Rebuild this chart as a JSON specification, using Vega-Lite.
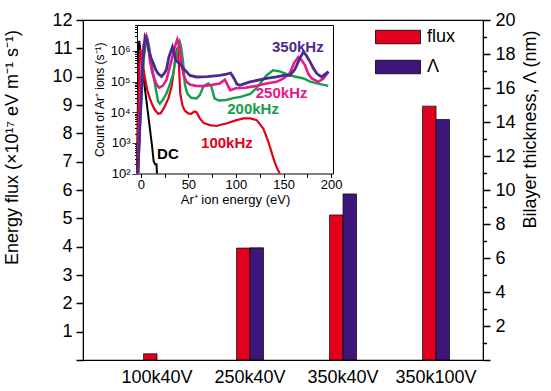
{
  "$schema": "https://vega.github.io/schema/vega-lite/v6.json",
  "width": 400,
  "height": 340,
  "autosize": {"type": "none"},
  "padding": {"left": 83, "top": 20, "right": 68, "bottom": 31},
  "background": "white",
  "config": {
    "view": {"stroke": "black", "strokeWidth": 1.2},
    "font": "Liberation Sans",
    "axis": {"labelFont": "Liberation Sans", "titleFont": "Liberation Sans", "labelColor": "black", "titleColor": "black", "domainColor": "black", "tickColor": "black", "grid": false, "titleFontWeight": "normal"},
    "legend": {"labelFont": "Liberation Sans", "labelColor": "black"}
  },
  "datasets": {
    "bars": [
      {"sample": "100k40V", "series": "flux", "value": 0.22},
      {"sample": "250k40V", "series": "flux", "value": 3.95},
      {"sample": "250k40V", "series": "Λ", "value": 6.6},
      {"sample": "350k40V", "series": "flux", "value": 5.12},
      {"sample": "350k40V", "series": "Λ", "value": 9.77},
      {"sample": "350k100V", "series": "flux", "value": 8.96},
      {"sample": "350k100V", "series": "Λ", "value": 14.15}
    ],
    "ied": [
      {"curve": "DC", "E": -4, "count": 100},
      {"curve": "DC", "E": -3, "count": 31600},
      {"curve": "DC", "E": -2.2, "count": 1580000},
      {"curve": "DC", "E": -1.6, "count": 2140000},
      {"curve": "DC", "E": -0.8, "count": 1260000},
      {"curve": "DC", "E": 0, "count": 710000},
      {"curve": "DC", "E": 3, "count": 126000},
      {"curve": "DC", "E": 6, "count": 22400},
      {"curve": "DC", "E": 9, "count": 3980},
      {"curve": "DC", "E": 12, "count": 708},
      {"curve": "DC", "E": 13.5, "count": 251},
      {"curve": "DC", "E": 15, "count": 200},
      {"curve": "DC", "E": 16.5, "count": 200},
      {"curve": "DC", "E": 17, "count": 100},

      {"curve": "100kHz", "E": -3.5, "count": 100},
      {"curve": "100kHz", "E": -2.5, "count": 10000},
      {"curve": "100kHz", "E": -1.5, "count": 316000},
      {"curve": "100kHz", "E": -0.5, "count": 1100000},
      {"curve": "100kHz", "E": 1, "count": 630000},
      {"curve": "100kHz", "E": 2.5, "count": 316000},
      {"curve": "100kHz", "E": 4.2, "count": 141000},
      {"curve": "100kHz", "E": 7, "count": 50000},
      {"curve": "100kHz", "E": 9.5, "count": 28200},
      {"curve": "100kHz", "E": 12, "count": 17800},
      {"curve": "100kHz", "E": 14.7, "count": 12000},
      {"curve": "100kHz", "E": 18.2, "count": 8900},
      {"curve": "100kHz", "E": 21, "count": 9300},
      {"curve": "100kHz", "E": 25, "count": 15100},
      {"curve": "100kHz", "E": 29, "count": 28200},
      {"curve": "100kHz", "E": 32.3, "count": 67600},
      {"curve": "100kHz", "E": 34.5, "count": 200000},
      {"curve": "100kHz", "E": 36.8, "count": 830000},
      {"curve": "100kHz", "E": 38.5, "count": 1260000},
      {"curve": "100kHz", "E": 40, "count": 398000},
      {"curve": "100kHz", "E": 41.5, "count": 39800},
      {"curve": "100kHz", "E": 44, "count": 15800},
      {"curve": "100kHz", "E": 46.3, "count": 11200},
      {"curve": "100kHz", "E": 49.8, "count": 9100},
      {"curve": "100kHz", "E": 53, "count": 8900},
      {"curve": "100kHz", "E": 56, "count": 10500},
      {"curve": "100kHz", "E": 58.6, "count": 10000},
      {"curve": "100kHz", "E": 62, "count": 6300},
      {"curve": "100kHz", "E": 66, "count": 4470},
      {"curve": "100kHz", "E": 72.6, "count": 3800},
      {"curve": "100kHz", "E": 79.6, "count": 3550},
      {"curve": "100kHz", "E": 85, "count": 3980},
      {"curve": "100kHz", "E": 90, "count": 4270},
      {"curve": "100kHz", "E": 100.7, "count": 5500},
      {"curve": "100kHz", "E": 108, "count": 6300},
      {"curve": "100kHz", "E": 114.7, "count": 6300},
      {"curve": "100kHz", "E": 121.8, "count": 5500},
      {"curve": "100kHz", "E": 128.7, "count": 2950},
      {"curve": "100kHz", "E": 134, "count": 1100},
      {"curve": "100kHz", "E": 139.3, "count": 316},
      {"curve": "100kHz", "E": 142.8, "count": 158},
      {"curve": "100kHz", "E": 146, "count": 100},

      {"curve": "200kHz", "E": -3, "count": 100},
      {"curve": "200kHz", "E": -1, "count": 3160},
      {"curve": "200kHz", "E": 1, "count": 63000},
      {"curve": "200kHz", "E": 3, "count": 500000},
      {"curve": "200kHz", "E": 5, "count": 1580000},
      {"curve": "200kHz", "E": 7, "count": 2500000},
      {"curve": "200kHz", "E": 9, "count": 1260000},
      {"curve": "200kHz", "E": 11, "count": 400000},
      {"curve": "200kHz", "E": 13, "count": 182000},
      {"curve": "200kHz", "E": 15.5, "count": 63000},
      {"curve": "200kHz", "E": 18.2, "count": 22400},
      {"curve": "200kHz", "E": 20, "count": 19000},
      {"curve": "200kHz", "E": 23, "count": 25100},
      {"curve": "200kHz", "E": 27, "count": 40700},
      {"curve": "200kHz", "E": 31, "count": 89000},
      {"curve": "200kHz", "E": 34, "count": 182000},
      {"curve": "200kHz", "E": 37.5, "count": 790000},
      {"curve": "200kHz", "E": 41, "count": 1950000},
      {"curve": "200kHz", "E": 42.5, "count": 1260000},
      {"curve": "200kHz", "E": 44.6, "count": 390000},
      {"curve": "200kHz", "E": 46.3, "count": 79000},
      {"curve": "200kHz", "E": 49, "count": 39800},
      {"curve": "200kHz", "E": 53, "count": 29500},
      {"curve": "200kHz", "E": 58.6, "count": 28200},
      {"curve": "200kHz", "E": 62, "count": 36300},
      {"curve": "200kHz", "E": 66, "count": 70800},
      {"curve": "200kHz", "E": 71, "count": 87000},
      {"curve": "200kHz", "E": 74, "count": 70800},
      {"curve": "200kHz", "E": 77.5, "count": 28200},
      {"curve": "200kHz", "E": 82, "count": 24000},
      {"curve": "200kHz", "E": 90, "count": 25100},
      {"curve": "200kHz", "E": 97, "count": 28800},
      {"curve": "200kHz", "E": 105, "count": 31600},
      {"curve": "200kHz", "E": 115, "count": 39800},
      {"curve": "200kHz", "E": 122, "count": 63000},
      {"curve": "200kHz", "E": 132, "count": 158000},
      {"curve": "200kHz", "E": 139, "count": 234000},
      {"curve": "200kHz", "E": 146, "count": 214000},
      {"curve": "200kHz", "E": 157, "count": 158000},
      {"curve": "200kHz", "E": 164, "count": 141000},
      {"curve": "200kHz", "E": 171, "count": 126000},
      {"curve": "200kHz", "E": 178, "count": 100000},
      {"curve": "200kHz", "E": 185, "count": 87000},
      {"curve": "200kHz", "E": 197, "count": 72400},

      {"curve": "250kHz", "E": -3, "count": 100},
      {"curve": "250kHz", "E": -1, "count": 10000},
      {"curve": "250kHz", "E": 1, "count": 316000},
      {"curve": "250kHz", "E": 3, "count": 1580000},
      {"curve": "250kHz", "E": 5.8, "count": 2950000},
      {"curve": "250kHz", "E": 7.8, "count": 1580000},
      {"curve": "250kHz", "E": 9.5, "count": 500000},
      {"curve": "250kHz", "E": 12, "count": 200000},
      {"curve": "250kHz", "E": 14.7, "count": 112000},
      {"curve": "250kHz", "E": 17, "count": 75900},
      {"curve": "250kHz", "E": 19.3, "count": 63000},
      {"curve": "250kHz", "E": 23, "count": 72400},
      {"curve": "250kHz", "E": 27, "count": 112000},
      {"curve": "250kHz", "E": 32.3, "count": 500000},
      {"curve": "250kHz", "E": 35.5, "count": 1260000},
      {"curve": "250kHz", "E": 38.4, "count": 2400000},
      {"curve": "250kHz", "E": 40.2, "count": 1580000},
      {"curve": "250kHz", "E": 42.8, "count": 390000},
      {"curve": "250kHz", "E": 45, "count": 158000},
      {"curve": "250kHz", "E": 48, "count": 97700},
      {"curve": "250kHz", "E": 51.6, "count": 79400},
      {"curve": "250kHz", "E": 58, "count": 72400},
      {"curve": "250kHz", "E": 65, "count": 70800},
      {"curve": "250kHz", "E": 72.6, "count": 75900},
      {"curve": "250kHz", "E": 83, "count": 87000},
      {"curve": "250kHz", "E": 88.4, "count": 115000},
      {"curve": "250kHz", "E": 91, "count": 79400},
      {"curve": "250kHz", "E": 94, "count": 52500},
      {"curve": "250kHz", "E": 100, "count": 60300},
      {"curve": "250kHz", "E": 110, "count": 63000},
      {"curve": "250kHz", "E": 120, "count": 70800},
      {"curve": "250kHz", "E": 132, "count": 87000},
      {"curve": "250kHz", "E": 142.8, "count": 97700},
      {"curve": "250kHz", "E": 150, "count": 126000},
      {"curve": "250kHz", "E": 156.8, "count": 190000},
      {"curve": "250kHz", "E": 161, "count": 400000},
      {"curve": "250kHz", "E": 165.6, "count": 630000},
      {"curve": "250kHz", "E": 169, "count": 500000},
      {"curve": "250kHz", "E": 172.6, "count": 340000},
      {"curve": "250kHz", "E": 176, "count": 178000},
      {"curve": "250kHz", "E": 179.7, "count": 126000},
      {"curve": "250kHz", "E": 186.6, "count": 97700},
      {"curve": "250kHz", "E": 192, "count": 126000},
      {"curve": "250kHz", "E": 197.2, "count": 210000},

      {"curve": "350kHz", "E": -3, "count": 100},
      {"curve": "350kHz", "E": -1, "count": 3160},
      {"curve": "350kHz", "E": 1, "count": 63000},
      {"curve": "350kHz", "E": 2.5, "count": 630000},
      {"curve": "350kHz", "E": 4.5, "count": 2900000},
      {"curve": "350kHz", "E": 6.5, "count": 2240000},
      {"curve": "350kHz", "E": 8.5, "count": 1000000},
      {"curve": "350kHz", "E": 11, "count": 560000},
      {"curve": "350kHz", "E": 13, "count": 400000},
      {"curve": "350kHz", "E": 15.5, "count": 250000},
      {"curve": "350kHz", "E": 18.2, "count": 182000},
      {"curve": "350kHz", "E": 21.8, "count": 145000},
      {"curve": "350kHz", "E": 25, "count": 190000},
      {"curve": "350kHz", "E": 27, "count": 250000},
      {"curve": "350kHz", "E": 29.5, "count": 630000},
      {"curve": "350kHz", "E": 33.3, "count": 1350000},
      {"curve": "350kHz", "E": 35, "count": 890000},
      {"curve": "350kHz", "E": 36.5, "count": 500000},
      {"curve": "350kHz", "E": 38.6, "count": 440000},
      {"curve": "350kHz", "E": 41, "count": 380000},
      {"curve": "350kHz", "E": 44.6, "count": 270000},
      {"curve": "350kHz", "E": 48, "count": 210000},
      {"curve": "350kHz", "E": 51.6, "count": 158000},
      {"curve": "350kHz", "E": 58.6, "count": 141000},
      {"curve": "350kHz", "E": 70, "count": 145000},
      {"curve": "350kHz", "E": 83, "count": 158000},
      {"curve": "350kHz", "E": 90, "count": 174000},
      {"curve": "350kHz", "E": 94.5, "count": 190000},
      {"curve": "350kHz", "E": 98, "count": 126000},
      {"curve": "350kHz", "E": 101, "count": 83000},
      {"curve": "350kHz", "E": 104, "count": 75900},
      {"curve": "350kHz", "E": 114.7, "count": 97700},
      {"curve": "350kHz", "E": 132, "count": 126000},
      {"curve": "350kHz", "E": 142.8, "count": 141000},
      {"curve": "350kHz", "E": 150, "count": 158000},
      {"curve": "350kHz", "E": 156.8, "count": 158000},
      {"curve": "350kHz", "E": 162, "count": 250000},
      {"curve": "350kHz", "E": 167, "count": 560000},
      {"curve": "350kHz", "E": 171, "count": 930000},
      {"curve": "350kHz", "E": 174, "count": 710000},
      {"curve": "350kHz", "E": 177.9, "count": 440000},
      {"curve": "350kHz", "E": 181.4, "count": 270000},
      {"curve": "350kHz", "E": 185, "count": 182000},
      {"curve": "350kHz", "E": 190, "count": 141000},
      {"curve": "350kHz", "E": 197.2, "count": 210000}
    ],
    "notes": [
      {"curve": "350kHz", "E": 165, "count": 1350000},
      {"curve": "250kHz", "E": 148, "count": 41000},
      {"curve": "200kHz", "E": 118, "count": 12600},
      {"curve": "100kHz", "E": 90.5, "count": 1000},
      {"curve": "DC", "E": 28.5, "count": 435}
    ]
  },
  "layer": [
    {
      "data": {"name": "bars"},
      "layer": [
        {
          "transform": [{"filter": "datum.series === 'flux'"}],
          "mark": {"type": "bar", "stroke": "black", "strokeWidth": 0.7},
          "encoding": {
            "x": {"field": "sample", "type": "nominal", "sort": null,
              "scale": {"domain": ["100k40V", "250k40V", "350k40V", "350k100V"], "paddingInner": 0.71, "paddingOuter": 0.5055, "align": 0.644},
              "axis": {"orient": "bottom", "title": null, "labelAngle": 0, "ticks": false, "domain": false, "labelFontSize": 18, "labelPadding": 8}},
            "xOffset": {"field": "series", "type": "nominal", "scale": {"domain": ["flux", "Λ"]}},
            "y": {"field": "value", "type": "quantitative",
              "scale": {"domain": [0, 12], "nice": false},
              "axis": {"orient": "left", "title": "Energy flux (×10¹⁷ eV m⁻¹ s⁻¹)",
                "values": [0, 0.5, 1, 1.5, 2, 2.5, 3, 3.5, 4, 4.5, 5, 5.5, 6, 6.5, 7, 7.5, 8, 8.5, 9, 9.5, 10, 10.5, 11, 11.5, 12],
                "format": "d",
                "labelExpr": "datum.value > 0 && datum.value % 1 == 0 ? datum.label : ''",
                "tickSize": 7, "tickWidth": 1.5, "tickColor": "#000000",
                "tickDash": {"condition": {"test": "datum.value % 1 != 0", "value": [3.5, 20]}, "value": [1, 0]},
                "labelPadding": 4, "labelFontSize": 18, "titleFontSize": 18,
                "titleAngle": 270, "titleX": -62, "titleY": 127}},
            "color": {"field": "series", "type": "nominal",
              "scale": {"domain": ["flux", "Λ"], "range": ["#E2001F", "#3E1579"]},
              "legend": {"orient": "none", "legendX": 292, "legendY": 9, "title": null,
                "symbolType": "M-1,-0.3H1V0.3H-1Z", "symbolSize": 2025, "symbolStrokeColor": "black", "symbolStrokeWidth": 0.8,
                "labelFontSize": 18, "clipHeight": 16, "rowPadding": 12, "labelOffset": 6}}
          }
        },
        {
          "transform": [{"filter": "datum.series === 'Λ'"}],
          "mark": {"type": "bar", "stroke": "black", "strokeWidth": 0.7},
          "encoding": {
            "x": {"field": "sample", "type": "nominal", "sort": null,
              "scale": {"domain": ["100k40V", "250k40V", "350k40V", "350k100V"], "paddingInner": 0.71, "paddingOuter": 0.5055, "align": 0.644}},
            "xOffset": {"field": "series", "type": "nominal", "scale": {"domain": ["flux", "Λ"]}},
            "y": {"field": "value", "type": "quantitative",
              "scale": {"domain": [0, 20], "nice": false},
              "axis": {"orient": "right", "title": "Bilayer thickness, Λ (nm)",
                "values": [0, 1, 2, 3, 4, 5, 6, 7, 8, 9, 10, 11, 12, 13, 14, 15, 16, 17, 18, 19, 20],
                "labelExpr": "datum.value > 0 && datum.value % 2 == 0 ? datum.label : ''",
                "tickSize": 7, "tickWidth": 1.5, "tickColor": "#000000",
                "tickDash": {"condition": {"test": "datum.value % 2 != 0", "value": [3.5, 20]}, "value": [1, 0]},
                "labelPadding": 5, "labelFontSize": 18, "titleFontSize": 18,
                "titleAngle": 270, "titleX": 56, "titleY": 109}},
            "color": {"field": "series", "type": "nominal",
              "scale": {"domain": ["flux", "Λ"], "range": ["#E2001F", "#3E1579"]}}
          }
        }
      ],
      "resolve": {"scale": {"y": "independent"}, "axis": {"y": "independent"}}
    },
    {
      "layer": [
        {
          "data": {"name": "ied"},
          "mark": {"type": "line"},
          "encoding": {
            "x": {"field": "E", "type": "quantitative",
              "scale": {"domain": [-4, 202], "range": [54, 250], "nice": false, "zero": false},
              "axis": {"orient": "bottom", "offset": -186.5, "values": [0, 25, 50, 75, 100, 125, 150, 175, 200],
                "labelExpr": "datum.value % 50 == 0 ? datum.label : ''",
                "tickSize": 4, "tickWidth": 1, "tickColor": "#000000", "labelPadding": 1, "labelFontSize": 13, "titleFontSize": 13, "titlePadding": 2,
                "title": "Ar⁺ ion energy (eV)"}},
            "y": {"field": "count", "type": "quantitative",
              "scale": {"type": "log", "domain": [100, 7000000], "range": [153.5, 5], "nice": false, "clamp": true},
              "axis": {"orient": "left", "offset": -54,
                "values": [100, 200, 300, 400, 500, 600, 700, 800, 900, 1000, 2000, 3000, 4000, 5000, 6000, 7000, 8000, 9000, 10000, 20000, 30000, 40000, 50000, 60000, 70000, 80000, 90000, 100000, 200000, 300000, 400000, 500000, 600000, 700000, 800000, 900000, 1000000, 2000000, 3000000, 4000000, 5000000, 6000000, 7000000],
                "labelExpr": "abs(log(datum.value)/LN10 - round(log(datum.value)/LN10)) < 0.001 ? '10' + ['⁰','¹','²','³','⁴','⁵','⁶','⁷'][round(log(datum.value)/LN10)] : ''",
                "tickSize": 5, "tickWidth": 1, "tickColor": "#000000",
                "tickDash": {"condition": {"test": "abs(log(datum.value)/LN10 - round(log(datum.value)/LN10)) > 0.001", "value": [2.5, 20]}, "value": [1, 0]},
                "labelPadding": 2, "labelFontSize": 13, "titleFontSize": 12, "titlePadding": 3,
                "title": "Count of Ar⁺ ions (s⁻¹)"}},
            "color": {"field": "curve", "type": "nominal",
              "scale": {"domain": ["DC", "100kHz", "200kHz", "250kHz", "350kHz"], "range": ["#000000", "#E3001B", "#14A04B", "#E5198A", "#4B2A8F"]},
              "legend": null},
            "strokeWidth": {"field": "curve", "type": "nominal",
              "scale": {"domain": ["DC", "100kHz", "200kHz", "250kHz", "350kHz"], "range": [2, 2.8, 2.2, 1.8, 1.6]},
              "legend": null}
          }
        },
        {
          "data": {"name": "notes"},
          "mark": {"type": "text", "fontWeight": "bold", "fontSize": 15, "align": "center", "baseline": "middle"},
          "encoding": {
            "x": {"field": "E", "type": "quantitative",
              "axis": {"orient": "top", "offset": -5, "labels": false, "ticks": false, "title": null}},
            "y": {"field": "count", "type": "quantitative",
              "axis": {"orient": "right", "offset": -150, "labels": false, "ticks": false, "title": null}},
            "text": {"field": "curve"},
            "color": {"field": "curve", "type": "nominal", "legend": null}
          }
        }
      ],
      "resolve": {"axis": {"x": "independent", "y": "independent"}}
    }
  ],
  "resolve": {
    "scale": {"x": "independent", "y": "independent", "color": "independent", "strokeWidth": "independent"},
    "axis": {"x": "independent", "y": "independent"},
    "legend": {"color": "independent"}
  }
}
